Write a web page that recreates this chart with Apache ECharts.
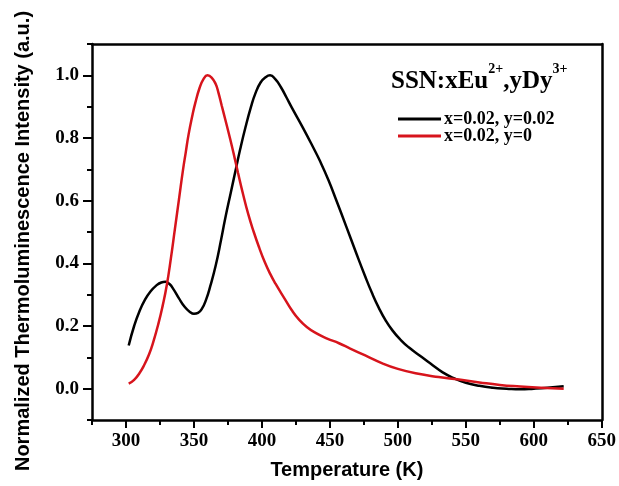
<!DOCTYPE html>
<html>
<head>
<meta charset="utf-8">
<script src="https://cdn.jsdelivr.net/npm/echarts@6/dist/echarts.min.js"></script>
<style>html,body{margin:0;padding:0;background:#fff;}#c{width:619px;height:486px;}</style>
</head>
<body>
<div id="c"></div>
<script>
// Series names
var seriesNames = ['x=0.02, y=0.02', 'x=0.02, y=0'];
// Black curve: [Temperature (K), normalized intensity]
var blackData = [
  [302,0.138],[306,0.2],[310,0.248],[314,0.284],[318,0.31],[322,0.328],[326,0.339],[329,0.341],
  [332,0.334],[335,0.317],[339,0.288],[343,0.262],[347,0.245],[350,0.239],[353,0.242],[356,0.256],
  [359,0.285],[362,0.327],[366,0.393],[370,0.476],[373,0.543],[377,0.624],[381,0.704],[384,0.764],
  [388,0.836],[392,0.9],[395,0.94],[399,0.977],[403,0.995],[406,1.0],[410,0.987],[414,0.962],
  [418,0.93],[422,0.897],[430,0.834],[437,0.776],[443,0.724],[449,0.665],[455,0.598],[462,0.518],
  [469,0.437],[476,0.358],[481,0.305],[486,0.258],[491,0.218],[496,0.186],[502,0.156],[508,0.132],
  [516,0.106],[524,0.08],[533,0.052],[542,0.032],[550,0.019],[560,0.009],[570,0.003],[580,0.0],
  [590,-0.002],[600,0.0],[610,0.003],[622,0.008]
];
// Red curve
var redData = [
  [302,0.016],[306,0.028],[310,0.05],[313,0.072],[317,0.11],[320,0.148],[324,0.21],[327,0.265],
  [330,0.33],[333,0.415],[336,0.51],[339,0.605],[342,0.7],[344,0.755],[346,0.81],[349,0.875],
  [351,0.912],[354,0.958],[357,0.988],[360,1.0],[363,0.993],[366,0.972],[368,0.945],[370.5,0.902],
  [373,0.86],[376.7,0.796],[380,0.735],[382.4,0.689],[386,0.623],[390,0.556],[394,0.5],[398,0.45],
  [402,0.405],[406,0.367],[410,0.335],[417,0.285],[422,0.25],[427,0.222],[433,0.197],[439.5,0.178],
  [448,0.16],[456.7,0.145],[465,0.128],[476,0.106],[489,0.08],[500,0.063],[513,0.049],[530,0.037],
  [545,0.029],[560,0.02],[575,0.012],[590,0.007],[605,0.003],[622,0.0]
];
// Tick values
var xMajor = [300,350,400,450,500,550,600,650];
var xMinor = [275,325,375,425,475,525,575,625];
var yMajor = [0,0.2,0.4,0.6,0.8,1.0];
var yMinor = [-0.1,0.1,0.3,0.5,0.7,0.9,1.1];

var serif = 'Liberation Serif';
var sans = 'Liberation Sans';
var lineW = 2.5;
function baseAxis(o){ return Object.assign({
  type:'value', splitLine:{show:false}, offset:0,
  axisLine:{show:true, onZero:false, lineStyle:{color:'#000', width:lineW}},
  axisTick:{show:false}, axisLabel:{show:false}
}, o); }
var gridRect = {left:92, right:17, top:44, bottom:66};

var chart = echarts.init(document.getElementById('c'), null, {renderer:'canvas'});
chart.setOption({
  animation:false,
  backgroundColor:'#fff',
  grid:[Object.assign({}, gridRect), Object.assign({}, gridRect)],
  title:{
    left:386, top:57,
    text:'{a|SSN:xEu}{s|2+}{a|,yDy}{s|3+}',
    textStyle:{
      rich:{
        a:{fontFamily:serif, fontWeight:'bold', fontSize:25, color:'#000', lineHeight:32, verticalAlign:'bottom'},
        s:{fontFamily:serif, fontWeight:'bold', fontSize:14, color:'#000', lineHeight:32, verticalAlign:'top'}
      }
    }
  },
  legend:{
    orient:'vertical', left:398, top:110, padding:0, icon:'rect', itemWidth:43, itemHeight:3, itemGap:-1,
    data:seriesNames,
    textStyle:{fontFamily:serif, fontWeight:'bold', fontSize:18, color:'#000', lineHeight:16, padding:[0,0,0,-2]}
  },
  xAxis:[
    baseAxis({gridIndex:0, min:275, max:650, position:'bottom',
      name:'Temperature (K)', nameLocation:'middle', nameGap:40,
      nameTextStyle:{fontFamily:sans, fontWeight:'bold', fontSize:20, color:'#000'},
      axisTick:{show:true, customValues:xMajor, length:8, lineStyle:{color:'#000', width:2}},
      axisLabel:{show:true, customValues:xMajor, fontFamily:serif, fontWeight:'bold', fontSize:19, color:'#000', margin:12}
    }),
    baseAxis({gridIndex:0, min:275, max:650, position:'top'}),
    baseAxis({gridIndex:1, min:275, max:650, position:'bottom', axisLine:{show:false, onZero:false},
      axisTick:{show:true, customValues:xMinor, length:5, lineStyle:{color:'#000', width:2}}})
  ],
  yAxis:[
    baseAxis({gridIndex:0, min:-0.1, max:1.1, position:'left',
      name:'Normalized Thermoluminescence Intensity (a.u.)', nameLocation:'middle', nameGap:59,
      nameTextStyle:{fontFamily:sans, fontWeight:'bold', fontSize:20, color:'#000', padding:[0,18,0,0]},
      axisTick:{show:true, customValues:yMajor, length:9, lineStyle:{color:'#000', width:2}},
      axisLabel:{show:true, customValues:yMajor, fontFamily:serif, fontWeight:'bold', fontSize:19, color:'#000', margin:13,
        formatter:function(v){return v.toFixed(1);}}
    }),
    baseAxis({gridIndex:0, min:-0.1, max:1.1, position:'right'}),
    baseAxis({gridIndex:1, min:-0.1, max:1.1, position:'left', axisLine:{show:false, onZero:false},
      axisTick:{show:true, customValues:yMinor, length:5, lineStyle:{color:'#000', width:2}}})
  ],
  series:[
    {name:seriesNames[0], type:'line', xAxisIndex:0, yAxisIndex:0, data:blackData, smooth:0.5, showSymbol:false, symbol:'none',
      itemStyle:{color:'#000'}, lineStyle:{color:'#000', width:lineW}, z:3},
    {name:seriesNames[1], type:'line', xAxisIndex:0, yAxisIndex:0, data:redData, smooth:0.5, showSymbol:false, symbol:'none',
      itemStyle:{color:'#d7141c'}, lineStyle:{color:'#d7141c', width:lineW}, z:4}
  ]
});
</script>
</body>
</html>
